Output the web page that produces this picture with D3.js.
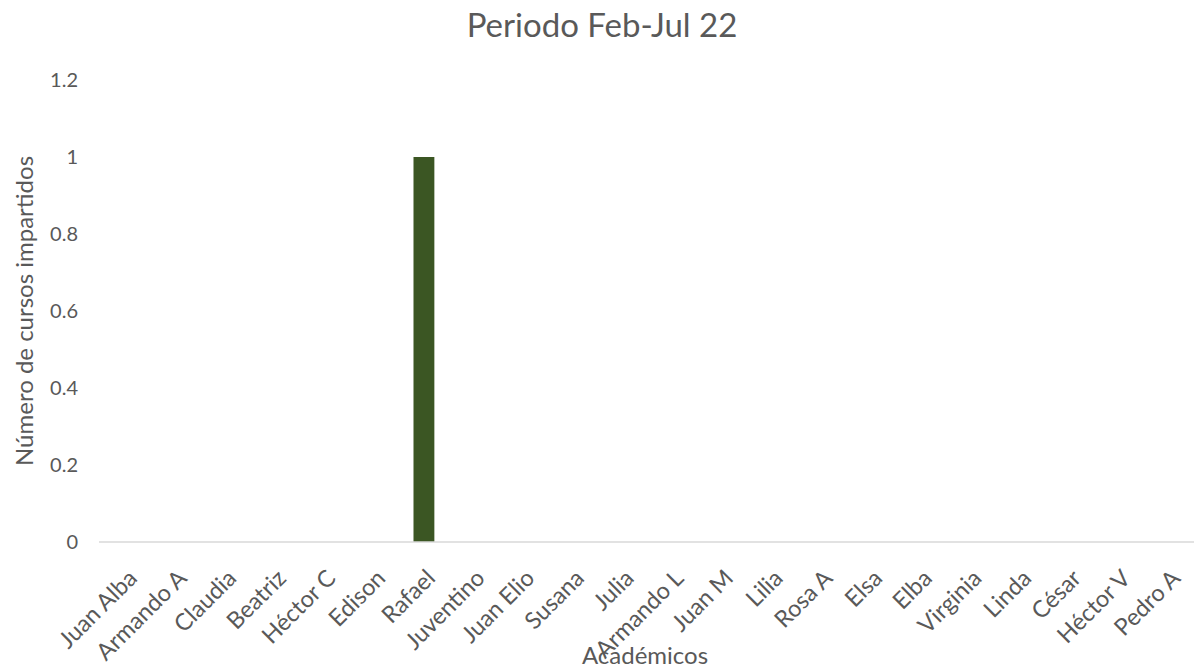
<!DOCTYPE html>
<html><head><meta charset="utf-8">
<script src="https://cdn.jsdelivr.net/npm/d3@7"></script>
<style>
body{margin:0;background:#fff;}
text{font-family:Lato, "Open Sans", sans-serif;fill:#595959;}
</style></head>
<body><svg id="c" width="1194" height="668"></svg>
<script>
const categories = ["Juan Alba","Armando A","Claudia","Beatriz","Héctor C","Edison","Rafael","Juventino","Juan Elio","Susana","Julia","Armando L","Juan M","Lilia","Rosa A","Elsa","Elba","Virginia","Linda","César","Héctor V","Pedro A"];
const values = [0,0,0,0,0,0,1,0,0,0,0,0,0,0,0,0,0,0,0,0,0,0];
const yTicks = [0,0.2,0.4,0.6,0.8,1,1.2];
const yTickLabels = ["0","0.2","0.4","0.6","0.8","1","1.2"];
const title = "Periodo Feb-Jul 22";
const xTitle = "Académicos";
const yTitle = "Número de cursos impartidos";

const svg = d3.select("#c");
const m = {left:99, right:1196, top:80, bottom:542};
const x = d3.scaleBand().domain(categories).range([m.left, m.right]).paddingInner(0.58).paddingOuter(0.33);
const y = d3.scaleLinear().domain([0,1.2]).range([m.bottom, m.top]);

svg.append("text").attr("x",602).attr("y",37).attr("text-anchor","middle")
  .style("font-size","33px").text(title);

svg.selectAll("rect.bar").data(categories.map((c,i)=>({c,v:values[i]})).filter(d=>d.v>0))
  .enter().append("rect").attr("class","bar")
  .attr("x",d=>x(d.c)).attr("width",x.bandwidth())
  .attr("y",d=>y(d.v)).attr("height",d=>y(0)-y(d.v)).attr("fill","#3B5623");

svg.append("line").attr("x1",m.left).attr("x2",m.right).attr("y1",y(0)).attr("y2",y(0))
  .attr("stroke","#D9D9D9").attr("stroke-width",1.5);

svg.selectAll("text.yt").data(yTicks).enter().append("text").attr("class","yt")
  .attr("x",78).attr("y",d=>y(d)).attr("dy","0.35em").attr("text-anchor","end")
  .style("font-size","20px").text((d,i)=>yTickLabels[i]);

svg.selectAll("text.xt").data(categories).enter().append("text").attr("class","xt")
  .attr("transform",d=>`translate(${x(d)+x.bandwidth()/2+1},${568}) rotate(-45)`)
  .attr("text-anchor","end").attr("dy","0.7em")
  .style("font-size","23.5px").text(d=>d);

svg.append("text").attr("x",645).attr("y",664).attr("text-anchor","middle")
  .style("font-size","24px").text(xTitle);

svg.append("text").attr("transform",`translate(33,311) rotate(-90)`).attr("text-anchor","middle")
  .style("font-size","24px").text(yTitle);
</script></body></html>
